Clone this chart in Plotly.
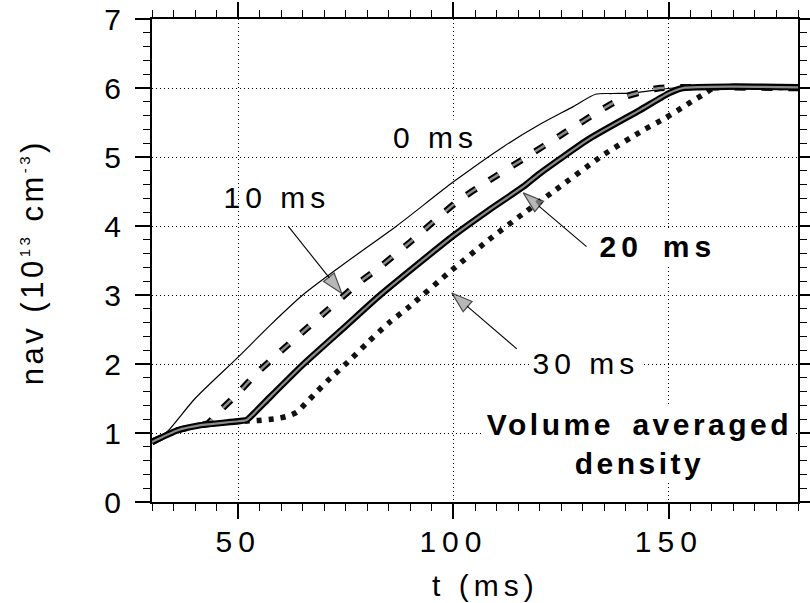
import plotly.graph_objects as go

# ---- data ----
t_0ms = [30, 32, 33.7, 40, 50, 57.4, 65, 75, 86.8, 100, 111.6, 120, 127.8, 133, 137, 142, 147, 151, 180]
n_0ms = [0.87, 0.95, 1.03, 1.50, 2.10, 2.56, 3.00, 3.47, 4.00, 4.64, 5.15, 5.47, 5.73, 5.91, 5.92, 5.93, 5.97, 6.0, 6.0]

t_10ms = [30, 36, 41, 43, 45.1, 49.7, 54.4, 60, 68, 77.9, 83, 90, 100.8, 108, 116.2, 125.5, 135.6, 140.2, 144.8, 148, 180]
n_10ms = [0.87, 1.04, 1.11, 1.14, 1.28, 1.56, 1.87, 2.19, 2.63, 3.17, 3.41, 3.77, 4.35, 4.65, 4.97, 5.34, 5.73, 5.88, 5.96, 6.0, 6.0]

t_20ms = [30, 36, 41, 50, 52, 53.6, 57.4, 65.2, 75, 83, 100, 108, 116.2, 120, 131.7, 143.3, 150.2, 153.3, 165, 180]
n_20ms = [0.87, 1.04, 1.11, 1.17, 1.19, 1.28, 1.52, 2.00, 2.55, 3.00, 3.86, 4.22, 4.57, 4.76, 5.27, 5.68, 5.93, 6.00, 6.02, 6.01]

t_30ms = [30, 36, 41, 50, 54.3, 59, 61.3, 63.6, 66, 68.3, 71, 76, 79.9, 84.9, 89.9, 99.6, 108, 116.2, 123.2, 134.8, 144.1, 149.1, 153.7, 156, 158.4, 160.5, 180]
n_30ms = [0.87, 1.04, 1.11, 1.17, 1.18, 1.21, 1.24, 1.30, 1.45, 1.60, 1.77, 2.06, 2.30, 2.59, 2.84, 3.36, 3.79, 4.18, 4.50, 5.03, 5.39, 5.56, 5.74, 5.83, 5.92, 6.00, 6.00]

labels = ["0 ms", "10 ms", "20\u2002ms", "30 ms"]
label_pos = [(95.8, 5.28), (59.0, 4.41), (147.4, 3.70), (130.8, 2.01)]
arrow_tips = {"10 ms": (74.1, 3.02), "20 ms": (116.2, 4.48), "30 ms": (99.6, 3.03)}
arrow_tails = {"10 ms": (61.7, 3.99), "20 ms": (130.9, 3.70), "30 ms": (114.7, 2.22)}

FONT = "Liberation Sans, Arial, Helvetica, sans-serif"

fig = go.Figure()
common = dict(mode="lines", showlegend=False, hoverinfo="skip")
fig.add_trace(go.Scatter(x=t_0ms, y=n_0ms, line=dict(color="black", width=1.2, shape="spline", smoothing=0.7), **common))
fig.add_trace(go.Scatter(x=t_10ms, y=n_10ms, line=dict(color="black", width=6.5, dash="11px,16px", shape="spline", smoothing=0.7), **common))
fig.add_trace(go.Scatter(x=t_10ms, y=n_10ms, line=dict(color="#8c8c8c", width=2.5, dash="11px,16px", shape="spline", smoothing=0.7), **common))
fig.add_trace(go.Scatter(x=t_30ms, y=n_30ms, line=dict(color="#111111", width=5.5, dash="5px,7px", shape="spline", smoothing=0.6), **common))
fig.add_trace(go.Scatter(x=t_20ms, y=n_20ms, line=dict(color="black", width=6.5, shape="spline", smoothing=0.6), **common))
fig.add_trace(go.Scatter(x=t_20ms, y=n_20ms, line=dict(color="#8c8c8c", width=2.2, shape="spline", smoothing=0.6), **common))

# arrows: thin black line with a grey, black-outlined arrowhead at the tip
for key in ["10 ms", "20 ms", "30 ms"]:
    tip, tail = arrow_tips[key], arrow_tails[key]
    fig.add_trace(go.Scatter(
        x=[tail[0], tip[0]], y=[tail[1], tip[1]], mode="lines+markers",
        line=dict(color="black", width=1.1),
        marker=dict(symbol=["circle", "arrow"], size=[0, 22], angleref="previous",
                    color="#9a9a9a", line=dict(color="black", width=1.2)),
        showlegend=False, hoverinfo="skip", cliponaxis=False))

annotations = []
for lab, (lx, ly) in zip(labels, label_pos):
    bold = lab.startswith("20")
    annotations.append(dict(x=lx, y=ly, xref="x", yref="y", showarrow=False,
                            xanchor="center", yanchor="middle",
                            text=("<b>%s</b>" % lab) if bold else lab,
                            font=dict(size=30, family=FONT, color="black"),
                            bgcolor=None if lab.startswith("10") else "white", borderpad=1))

annotations.append(dict(x=143.1, y=0.84, xref="x", yref="y", showarrow=False,
                        xanchor="center", yanchor="middle",
                        text="<b>Volume\u2002averaged<br>density</b>",
                        font=dict(size=30, family=FONT, color="black"),
                        bgcolor="white", borderpad=1))

# axis titles as annotations
annotations.append(dict(x=(32 - 152) / 646, y=(502 - 262) / 483, xref="paper", yref="paper",
                        showarrow=False, textangle=-90, xanchor="center", yanchor="middle",
                        text="nav (10<sup><span style=\"font-size:15px\">13</span></sup> cm<sup><span style=\"font-size:15px\">-3</span></sup>)",
                        font=dict(size=31, family=FONT, color="black")))
annotations.append(dict(x=(485.5 - 152) / 646, y=(502 - 585) / 483, xref="paper", yref="paper",
                        showarrow=False, text="t (ms)", xanchor="center", yanchor="middle",
                        font=dict(size=30, family=FONT, color="black")))

fig.update_layout(width=810, height=603, margin=dict(l=152, r=12, t=19, b=101, autoexpand=False),
                  plot_bgcolor="white", paper_bgcolor="white", showlegend=False,
                  font=dict(family=FONT, color="black"), annotations=annotations)

axis_common = dict(ticks="outside", ticklen=15, tickwidth=1.5, tickcolor="black",
                   showline=True, linewidth=2, linecolor="black", mirror="ticks",
                   showgrid=True, gridcolor="black", gridwidth=1, griddash="1px,3px",
                   zeroline=False, automargin=False,
                   tickfont=dict(size=30, family=FONT, color="black"))
fig.update_xaxes(range=[30, 180], tick0=0, dtick=50, ticklabelstandoff=-3,
                 minor=dict(ticks="outside", ticklen=7, tickwidth=1, dtick=5, tick0=0,
                            tickcolor="black", showgrid=False),
                 **axis_common)
fig.update_yaxes(range=[0, 7], tick0=0, dtick=1, ticklabelstandoff=8,
                 minor=dict(ticks="outside", ticklen=7, tickwidth=1, dtick=0.2, tick0=0,
                            tickcolor="black", showgrid=False),
                 **axis_common)

post = r"""
var gd = document.getElementById('{plot_id}');
function spacing(){
  gd.querySelectorAll('.xtick text').forEach(function(e){ e.style.letterSpacing = '6px'; });
  gd.querySelectorAll('g.annotation').forEach(function(g){
    var t = g.querySelector('text.annotation-text');
    if(!t) return;
    var s = t.textContent || '';
    if(s.indexOf('Volume') === 0) t.style.letterSpacing = '3.5px';
    else if(s.indexOf('nav') === 0) t.style.letterSpacing = '3.5px';
    else t.style.letterSpacing = '5px';
    var r = g.querySelector('rect.bg');
    if(r && s.length){
      var b = t.getBBox();
      r.setAttribute('x', b.x - 3);
      r.setAttribute('width', b.width + 6);
    }
  });
}
spacing();
gd.on('plotly_afterplot', spacing);
"""

fig.write_html("out.html", post_script=post, config={"displayModeBar": False})
